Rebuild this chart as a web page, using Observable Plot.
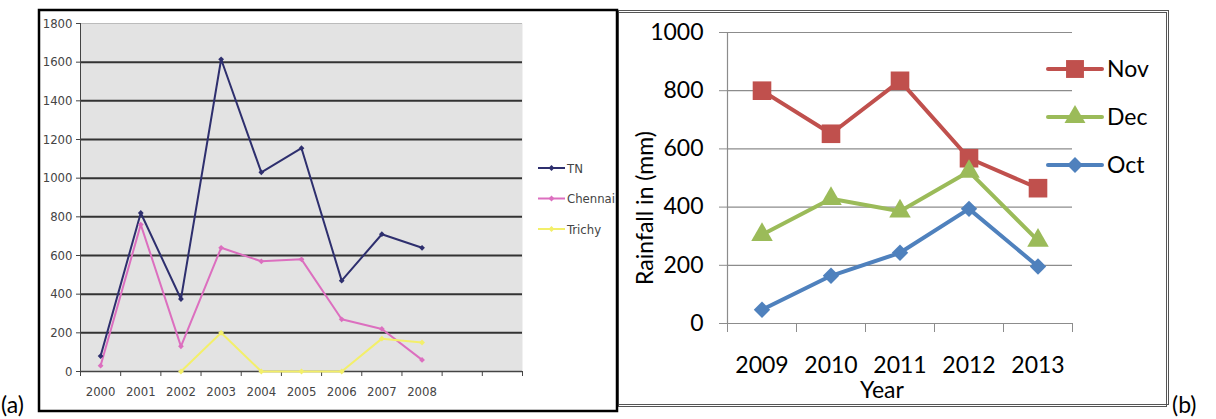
<!DOCTYPE html>
<html>
<head>
<meta charset="utf-8">
<script src="https://cdn.jsdelivr.net/npm/d3@7"></script>
<script src="https://cdn.jsdelivr.net/npm/@observablehq/plot@0.6"></script>
<style>
  html, body { margin: 0; padding: 0; background: #fff; }
  #root { position: relative; width: 1216px; height: 419px; overflow: hidden; background: #fff; }
  .abs { position: absolute; }
</style>
</head>
<body>
<div id="root"></div>
<script>
// ---------- Panel (a) data ----------
const yearsA = [2000, 2001, 2002, 2003, 2004, 2005, 2006, 2007, 2008];
const slotsA = [1999.5, 2000.5, 2001.5, 2002.5, 2003.5, 2004.5, 2005.5, 2006.5, 2007.5, 2008.5, 2009.5, 2010.5];
const tnValues = [80, 820, 375, 1615, 1030, 1155, 470, 710, 640];
const chennaiValues = [30, 760, 130, 640, 570, 580, 270, 220, 60];
const trichyValues = [null, null, 0, 200, 0, 0, 0, 170, 150];
const seriesA = ["TN", "Chennai", "Trichy"];
const colorsA = ["#2e2f6e", "#dc6fbf", "#f3ef6a"];
const yTicksA = [0, 200, 400, 600, 800, 1000, 1200, 1400, 1600, 1800];

// ---------- Panel (b) data ----------
const yearsB = [2009, 2010, 2011, 2012, 2013];
const slotsB = [2008.5, 2009.5, 2010.5, 2011.5, 2012.5, 2013.5];
const novValues = [800, 652, 834, 568, 465];
const decValues = [305, 429, 386, 522, 285];
const octValues = [47, 164, 243, 394, 196];
const seriesB = ["Nov", "Dec", "Oct"];
const colorsB = ["#c0504d", "#9bbb59", "#4f81bd"];
const symbolsB = ["square", "triangle", "diamond2"];
const yTicksB = [0, 200, 400, 600, 800, 1000];

const rowsA = [];
[tnValues, chennaiValues, trichyValues].forEach((vals, s) =>
  yearsA.forEach((y, i) => { if (vals[i] != null) rowsA.push({series: seriesA[s], year: y, value: vals[i]}); }));
const rowsB = [];
[novValues, decValues, octValues].forEach((vals, s) =>
  yearsB.forEach((y, i) => rowsB.push({series: seriesB[s], year: y, value: vals[i]})));

const root = document.getElementById("root");

// ---------- Chart (a) ----------
const fontA = '"Liberation Sans Narrow", "DejaVu Sans Condensed", sans-serif';
const chartA = Plot.plot({
  width: 577, height: 402,
  marginLeft: 41, marginRight: 94, marginTop: 14, marginBottom: 40,
  style: {fontFamily: fontA, fontSize: "13px", color: "#444", background: "transparent"},
  x: {type: "linear", domain: [1999.5, 2010.5], label: null},
  y: {domain: [0, 1800], label: null},
  color: {domain: seriesA, range: colorsA},
  marks: [
    Plot.frame({fill: "#e3e3e3", stroke: null}),
    Plot.gridY(yTicksA.filter(d => d > 0 && d < 1800), {stroke: "#333", strokeOpacity: 1, strokeWidth: 2}),
    Plot.gridY([1800], {stroke: "#bbb", strokeOpacity: 1}),
    Plot.axisY(yTicksA, {tickSize: 4, tickPadding: 4, stroke: "#444", fill: "#444", fontSize: 13,
      tickFormat: d => String(d), label: null}),
    Plot.axisX(slotsA, {tickSize: 5, tickFormat: () => "", stroke: "#444", label: null}),
    Plot.axisX(yearsA, {tickSize: 0, tickPadding: 15, tickFormat: d => String(d), fill: "#444", fontSize: 13, label: null}),
    Plot.ruleY([0], {stroke: "#444", strokeWidth: 1.5}),
    Plot.ruleX([1999.5], {stroke: "#444"}),
    Plot.lineY(rowsA, {x: "year", y: "value", stroke: "series", strokeWidth: 2}),
    Plot.dot(rowsA, {x: "year", y: "value", fill: "series", symbol: "diamond2", r: 2.6})
  ]
});
chartA.classList.add("abs");
chartA.style.left = "39px"; chartA.style.top = "9px";
root.appendChild(chartA);

// ---------- Chart (b) ----------
const fontB = 'Lato, "Open Sans", "Liberation Sans", sans-serif';
const chartB = Plot.plot({
  width: 548, height: 392,
  marginLeft: 108, marginRight: 95, marginTop: 20, marginBottom: 81,
  style: {fontFamily: fontB, fontSize: "23px", color: "#000", background: "transparent"},
  x: {type: "linear", domain: [2008.5, 2013.5], label: null},
  y: {domain: [0, 1000], label: null},
  color: {domain: seriesB, range: colorsB},
  symbol: {domain: seriesB, range: symbolsB},
  marks: [
    Plot.gridY(yTicksB, {stroke: "#8c8c8c", strokeOpacity: 1, strokeWidth: 1.2}),
    Plot.axisY(yTicksB, {tickSize: 8, tickPadding: 16, stroke: "#8c8c8c", fill: "#000", fontSize: 23,
      tickFormat: d => String(d), label: null}),
    Plot.axisX(slotsB, {tickSize: 9, tickFormat: () => "", stroke: "#8c8c8c", label: null}),
    Plot.axisX(yearsB, {tickSize: 0, tickPadding: 33, tickFormat: d => String(d), fill: "#000", fontSize: 23, label: null}),
    Plot.ruleX([2008.5], {stroke: "#8c8c8c", strokeWidth: 1.2}),
    Plot.lineY(rowsB, {x: "year", y: "value", stroke: "series", strokeWidth: 4}),
    Plot.dot(rowsB.filter(d => d.series === "Nov"), {x: "year", y: "value", fill: "series", symbol: "series", r: 10.5}),
    Plot.dot(rowsB.filter(d => d.series === "Dec"), {x: "year", y: "value", fill: "series", symbol: "series", r: 8}),
    Plot.dot(rowsB.filter(d => d.series === "Oct"), {x: "year", y: "value", fill: "series", symbol: "series", r: 7.4})
  ]
});
chartB.classList.add("abs");
chartB.style.left = "619px"; chartB.style.top = "12px";
root.appendChild(chartB);

// ---------- Frames, legends, axis titles, panel labels (layout only) ----------
const overlay = d3.create("svg").attr("width", 1216).attr("height", 419)
  .attr("class", "abs").style("left", "0px").style("top", "0px").style("pointer-events", "none");
// frame (b) double line
overlay.append("rect").attr("x", 618.5).attr("y", 10.5).attr("width", 550).attr("height", 394)
  .attr("fill", "none").attr("stroke", "#555").attr("stroke-width", 1);
overlay.append("rect").attr("x", 618.5).attr("y", 12.5).attr("width", 548).attr("height", 394)
  .attr("fill", "none").attr("stroke", "#555").attr("stroke-width", 1);
// frame (a)
overlay.append("rect").attr("x", 39).attr("y", 10).attr("width", 578).attr("height", 401)
  .attr("fill", "none").attr("stroke", "#000").attr("stroke-width", 2.5);

// axis titles (b)
overlay.append("text").attr("transform", "translate(653,208) rotate(-90)").attr("text-anchor", "middle")
  .attr("font-family", fontB).attr("font-size", 23).attr("fill", "#000").text("Rainfall in (mm)");
overlay.append("text").attr("x", 882).attr("y", 398).attr("text-anchor", "middle")
  .attr("font-family", fontB).attr("font-size", 23).attr("fill", "#000").text("Year");

// legend (a)
seriesA.forEach((s, i) => {
  const y = 168 + i * 30.5;
  overlay.append("line").attr("x1", 538).attr("x2", 565).attr("y1", y).attr("y2", y)
    .attr("stroke", colorsA[i]).attr("stroke-width", 2);
  overlay.append("path").attr("transform", `translate(551.5,${y})`)
    .attr("d", d3.symbol(d3.symbolDiamond2, 22)()).attr("fill", colorsA[i]);
  overlay.append("text").attr("x", 567).attr("y", y).attr("dy", "0.35em")
    .attr("font-family", fontA).attr("font-size", 13).attr("fill", "#444").text(s);
});

// legend (b)
const legSym = [d3.symbolSquare, d3.symbolTriangle, d3.symbolDiamond2];
const legSize = [320, 190, 160];
seriesB.forEach((s, i) => {
  const y = 69 + i * 48;
  overlay.append("line").attr("x1", 1048).attr("x2", 1102).attr("y1", y).attr("y2", y)
    .attr("stroke", colorsB[i]).attr("stroke-width", 4).attr("stroke-linecap", "round");
  overlay.append("path").attr("transform", `translate(1075,${y})`)
    .attr("d", d3.symbol(legSym[i], legSize[i])()).attr("fill", colorsB[i]);
  overlay.append("text").attr("x", 1107).attr("y", y).attr("dy", "0.35em")
    .attr("font-family", fontB).attr("font-size", 23).attr("fill", "#000").text(s);
});

// panel labels
overlay.append("text").attr("x", 1).attr("y", 413).attr("font-family", fontB).attr("font-size", 23).text("(a)");
overlay.append("text").attr("x", 1172).attr("y", 413).attr("font-family", fontB).attr("font-size", 23).text("(b)");
root.appendChild(overlay.node());
</script>
</body>
</html>
